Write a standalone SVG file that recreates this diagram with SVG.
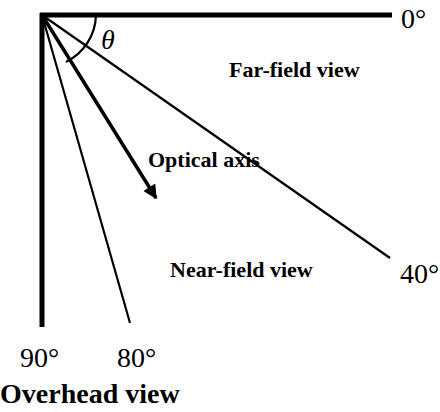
<svg xmlns="http://www.w3.org/2000/svg" width="440" height="412" viewBox="0 0 440 412">
<style>
.thick{stroke:#000;stroke-width:5;fill:none}
.thin{stroke:#000;stroke-width:2.2;fill:none}
.lbl{font-family:"Liberation Serif",serif;font-weight:bold;font-size:22px;fill:#000}
.deg{font-family:"Liberation Serif",serif;font-size:28px;fill:#000}
</style>
<defs>
<marker id="ah" viewBox="0 0 10 10" refX="9" refY="5" markerWidth="4.5" markerHeight="4" orient="auto" markerUnits="strokeWidth">
<path d="M0,0 L10,5 L0,10 Z" fill="#000"/>
</marker>
</defs>
<g id="connectors">
<line class="thick" x1="40" y1="15" x2="392" y2="15"/>
<line class="thick" x1="42" y1="13" x2="42" y2="327"/>
<line class="thin" x1="42" y1="15" x2="130" y2="323"/>
<line class="thin" x1="42" y1="15" x2="390" y2="258"/>
<line stroke="#000" stroke-width="3.5" x1="42" y1="15" x2="156" y2="198" marker-end="url(#ah)"/>
<path class="thin" d="M96,15 A54,54 0 0 1 66,62"/>
</g>
<g id="theta"><text x="101" y="49" font-family="Liberation Serif,serif" font-style="italic" font-size="28">θ</text></g>
<g id="far"><text class="lbl" x="229" y="77">Far-field view</text></g>
<g id="optical"><text class="lbl" x="148" y="167">Optical axis</text></g>
<g id="near"><text class="lbl" x="170" y="277">Near-field view</text></g>
<g id="overhead"><text class="lbl" x="0" y="403" style="font-size:28px">Overhead view</text></g>
<g id="d0"><text class="deg" x="401" y="28">0°</text></g>
<g id="d40"><text class="deg" x="400" y="283">40°</text></g>
<g id="d90"><text class="deg" x="20" y="367">90°</text></g>
<g id="d80"><text class="deg" x="117" y="367">80°</text></g>
</svg>
